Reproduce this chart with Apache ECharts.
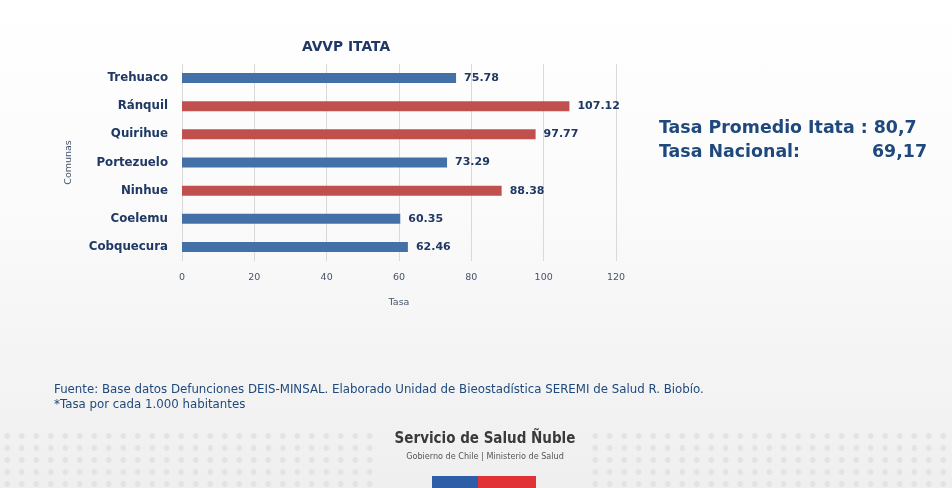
<!DOCTYPE html>
<html>
<head>
<meta charset="utf-8">
<script src="https://cdn.jsdelivr.net/npm/echarts@6/dist/echarts.min.js"></script>
<style>
  html, body { margin: 0; padding: 0; }
  body {
    width: 952px; height: 488px; overflow: hidden;
    background: linear-gradient(to bottom, #ffffff 0%, #fbfbfb 40%, #f3f3f3 80%, #efefef 100%);
    position: relative;
  }
  .dots {
    position: absolute; top: 430px; height: 58px;
    background-image: radial-gradient(circle, #e3e3e3 2.6px, transparent 3.2px);
    background-size: 14.5px 12px;
  }
  #chart { position: absolute; left: 0; top: 0; width: 952px; height: 488px; }
</style>
</head>
<body>
<div class="dots" style="left:0;width:378px"></div>
<div class="dots" style="left:588px;width:364px"></div>
<div id="chart"></div>
<script>
// datos AVVP por comuna (orden de arriba hacia abajo)
var comunas = ['Trehuaco', 'Ránquil', 'Quirihue', 'Portezuelo', 'Ninhue', 'Coelemu', 'Cobquecura'];
var tasas = [75.78, 107.12, 97.77, 73.29, 88.38, 60.35, 62.46];
var tasaPromedio = 80.7;
var tasaNacional = 69.17;
var ejeX = [0, 20, 40, 60, 80, 100, 120];

var azul = '#4470A8', rojo = '#C0504D', navy = '#1F3864';
var font = '"DejaVu Sans", sans-serif';
var narrow = '"DejaVu Sans Condensed", "Liberation Sans Narrow", sans-serif';

var myChart = echarts.init(document.getElementById('chart'));
var option = {
    animation: false,
    textStyle: { fontFamily: font },
    title: {
        text: 'AVVP ITATA',
        left: 341, top: 35, textAlign: 'center',
        textStyle: { fontSize: 13.8, fontWeight: 'bold', color: navy, fontFamily: font }
    },
    grid: { left: 182, right: 336, top: 64, bottom: 227 },
    xAxis: {
        type: 'value',
        min: ejeX[0], max: ejeX[ejeX.length - 1], interval: 20,
        name: 'Tasa', nameLocation: 'middle', nameGap: 37,
        nameTextStyle: { fontSize: 9.5, color: '#44546A', fontFamily: font },
        axisLine: { show: false },
        axisTick: { show: false },
        axisLabel: { fontSize: 9.5, color: '#44546A', margin: 12, fontFamily: font },
        splitLine: { show: true, lineStyle: { color: '#d9d9d9', width: 1 } }
    },
    yAxis: {
        type: 'category',
        data: comunas,
        inverse: true,
        name: 'Comunas', nameLocation: 'middle', nameGap: 108, nameRotate: 90,
        nameTextStyle: { fontSize: 9.5, color: '#44546A', fontFamily: font },
        axisLine: { show: false },
        axisTick: { show: false },
        axisLabel: { fontSize: 11.8, fontWeight: 'bold', color: navy, margin: 14, fontFamily: font }
    },
    series: [{
        type: 'bar',
        data: tasas,
        barWidth: 10,
        itemStyle: {
            color: function (p) { return p.value > tasaPromedio ? rojo : azul; }
        },
        label: {
            show: true, position: 'right', distance: 8,
            formatter: function (p) { return p.value.toFixed(2); },
            fontSize: 11, fontWeight: 'bold', color: navy, fontFamily: font
        }
    }],
    graphic: [
        { type: 'text', x: 659, y: 120, style: { text: 'Tasa Promedio Itata : ' + String(tasaPromedio).replace('.', ','), fontSize: 17.4, fontWeight: 'bold', fill: '#1F497D', fontFamily: font } },
        { type: 'text', x: 659, y: 144, style: { text: 'Tasa Nacional:', fontSize: 17.4, fontWeight: 'bold', fill: '#1F497D', fontFamily: font } },
        { type: 'text', x: 927, y: 144, style: { text: String(tasaNacional).replace('.', ','), align: 'right', fontSize: 17.4, fontWeight: 'bold', fill: '#1F497D', fontFamily: font } },
        { type: 'text', x: 54, y: 384, style: { text: 'Fuente: Base datos Defunciones DEIS-MINSAL. Elaborado Unidad de Bieostadística SEREMI de Salud R. Biobío.', fontSize: 11.8, fill: '#1F497D', fontFamily: font } },
        { type: 'text', x: 54, y: 399, style: { text: '*Tasa por cada 1.000 habitantes', fontSize: 11.8, fill: '#1F497D', fontFamily: font } },
        { type: 'text', x: 485, y: 432, style: { text: 'Servicio de Salud Ñuble', align: 'center', fontSize: 15, fontWeight: 'bold', fill: '#3a3a3a', fontFamily: narrow } },
        { type: 'text', x: 485, y: 452, style: { text: 'Gobierno de Chile | Ministerio de Salud', align: 'center', fontSize: 9, fill: '#555555', fontFamily: narrow } },
        { type: 'rect', x: 432, y: 476, shape: { width: 46, height: 12 }, style: { fill: '#2F5EA8' } },
        { type: 'rect', x: 478, y: 476, shape: { width: 58, height: 12 }, style: { fill: '#E03237' } }
    ]
};
myChart.setOption(option);
window.addEventListener('resize', function () { myChart.resize(); });
</script>
</body>
</html>
